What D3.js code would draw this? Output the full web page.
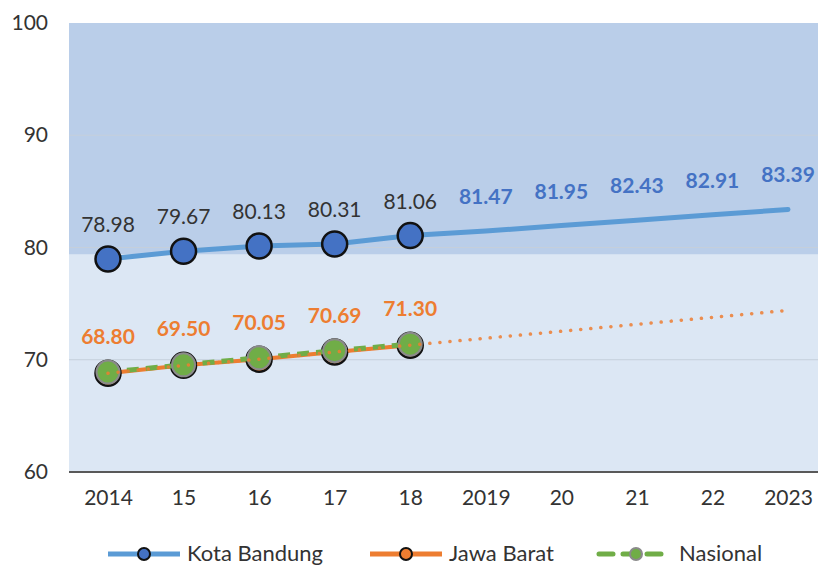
<!DOCTYPE html>
<meta charset="utf-8">
<style>
  body { margin: 0; background: #fff; }
  text { font-family: Lato, "Open Sans", sans-serif; }
</style>
<body>
<svg width="818" height="568"></svg>

<script src="https://cdn.jsdelivr.net/npm/d3@7/dist/d3.min.js"></script>
<script>

// data
var years = ["2014", "15", "16", "17", "18", "2019", "20", "21", "22", "2023"];
var kotaBandung = [78.98, 79.67, 80.13, 80.31, 81.06, 81.47, 81.95, 82.43, 82.91, 83.39];
var jawaBarat = [68.80, 69.50, 70.05, 70.69, 71.30, 71.92, 72.54, 73.16, 73.78, 74.40];
var nasional = [68.90, 69.55, 70.18, 70.81, 71.39];
var yTicks = [60, 70, 80, 90, 100];
var bandTop = 100, bandBottom = 79.4;
var lastActual = 4;   // index of 18, last year with real values

var svg = d3.select("svg");
var margin = {top: 23, left: 69, right: 0, bottom: 96};
var width = 818 - margin.left - margin.right;
var height = 568 - margin.top - margin.bottom;

var x = d3.scalePoint().domain(years).range([39, width - 30]);
var y = d3.scaleLinear().domain([60, 100]).range([height, 0]);

var g = svg.append("g")
    .attr("transform", "translate(" + margin.left + "," + margin.top + ")");

// background bands
g.append("rect")
    .attr("width", width).attr("height", height)
    .attr("fill", "#dce7f4");
g.append("rect")
    .attr("y", y(bandTop))
    .attr("width", width).attr("height", y(bandBottom) - y(bandTop))
    .attr("fill", "#bacee9");

// grid lines
g.selectAll(".grid").data(yTicks.filter(function(d) { return d > 60 && d < 100; }))
  .enter().append("line")
    .attr("x1", 0).attr("x2", width)
    .attr("y1", function(d) { return y(d); }).attr("y2", function(d) { return y(d); })
    .attr("stroke", "#c5cfdb").attr("stroke-width", 1);

// axes
var yAxis = g.append("g")
    .call(d3.axisLeft(y).tickValues(yTicks).tickSize(0).tickPadding(21));
yAxis.select(".domain").remove();
yAxis.selectAll("text").attr("font-size", 21).attr("fill", "#333");

var xAxis = g.append("g")
    .attr("transform", "translate(0," + height + ")")
    .call(d3.axisBottom(x).tickSize(0).tickPadding(18));
xAxis.select(".domain").remove();
xAxis.selectAll("text").attr("font-size", 21).attr("fill", "#333");
xAxis.append("line")
    .attr("x1", 0).attr("x2", width)
    .attr("stroke", "#595959").attr("stroke-width", 2);

var line = d3.line()
    .x(function(d, i) { return x(years[i]); })
    .y(function(d) { return y(d); });

// Kota Bandung
g.append("path")
    .datum(kotaBandung)
    .attr("d", line)
    .attr("fill", "none").attr("stroke", "#5b9bd5")
    .attr("stroke-width", 5).attr("stroke-linecap", "round");

g.selectAll(".kb").data(kotaBandung.slice(0, lastActual + 1))
  .enter().append("circle")
    .attr("cx", function(d, i) { return x(years[i]); })
    .attr("cy", function(d) { return y(d); })
    .attr("r", 12.5)
    .attr("fill", "#4472c4").attr("stroke", "#111").attr("stroke-width", 2.5);

// Jawa Barat solid part
var jbActual = jawaBarat.slice(0, lastActual + 1);
g.append("path")
    .datum(jbActual)
    .attr("d", line)
    .attr("fill", "none").attr("stroke", "#ed7d31").attr("stroke-width", 4);

g.selectAll(".jb").data(jbActual)
  .enter().append("circle")
    .attr("cx", function(d, i) { return x(years[i]); })
    .attr("cy", function(d) { return y(d); })
    .attr("r", 12.5)
    .attr("fill", "#ed7d31").attr("stroke", "#111").attr("stroke-width", 2.5);

// Nasional
g.append("path")
    .datum(nasional)
    .attr("d", line)
    .attr("fill", "none").attr("stroke", "#70ad47")
    .attr("stroke-width", 5).attr("stroke-dasharray", "12,7");

g.selectAll(".na").data(nasional)
  .enter().append("circle")
    .attr("cx", function(d, i) { return x(years[i]); })
    .attr("cy", function(d) { return y(d); })
    .attr("r", 11.5)
    .attr("fill", "#70ad47").attr("stroke", "#8a8a8a").attr("stroke-width", 2);

// Jawa Barat dotted trend
g.append("path")
    .datum(jawaBarat)
    .attr("d", line)
    .attr("fill", "none").attr("stroke", "#ed7d31")
    .attr("stroke-width", 3.5).attr("stroke-dasharray", "0.1,10")
    .attr("stroke-linecap", "round").attr("opacity", 0.85);

// labels
g.selectAll(".kbl").data(kotaBandung)
  .enter().append("text")
    .attr("x", function(d, i) { return x(years[i]); })
    .attr("y", function(d) { return y(d) - 27; })
    .attr("text-anchor", "middle")
    .attr("font-size", 21)
    .attr("font-weight", function(d, i) { return i > lastActual ? "bold" : "normal"; })
    .attr("fill", function(d, i) { return i > lastActual ? "#4472c4" : "#333"; })
    .text(function(d) { return d.toFixed(2); });

g.selectAll(".jbl").data(jbActual)
  .enter().append("text")
    .attr("x", function(d, i) { return x(years[i]); })
    .attr("y", function(d) { return y(d) - 29; })
    .attr("text-anchor", "middle")
    .attr("font-size", 21).attr("font-weight", "bold")
    .attr("fill", "#ed7d31")
    .text(function(d) { return d.toFixed(2); });

// legend
var legend = svg.append("g").attr("transform", "translate(0,554)");

var kbLeg = legend.append("g").attr("transform", "translate(108,0)");
kbLeg.append("line").attr("x1", 0).attr("x2", 72)
    .attr("stroke", "#5b9bd5").attr("stroke-width", 5);
kbLeg.append("circle").attr("cx", 36).attr("r", 6)
    .attr("fill", "#4472c4").attr("stroke", "#111").attr("stroke-width", 2);
kbLeg.append("text").attr("x", 79).attr("y", 7)
    .attr("font-size", 22).attr("fill", "#333").text("Kota Bandung");

var jbLeg = legend.append("g").attr("transform", "translate(370,0)");
jbLeg.append("line").attr("x1", 0).attr("x2", 72)
    .attr("stroke", "#ed7d31").attr("stroke-width", 5);
jbLeg.append("circle").attr("cx", 36).attr("r", 6)
    .attr("fill", "#ed7d31").attr("stroke", "#111").attr("stroke-width", 2);
jbLeg.append("text").attr("x", 79).attr("y", 7)
    .attr("font-size", 22).attr("fill", "#333").text("Jawa Barat");

var naLeg = legend.append("g").attr("transform", "translate(599,0)");
naLeg.append("line").attr("x1", 0).attr("x2", 72)
    .attr("stroke", "#70ad47").attr("stroke-width", 5)
    .attr("stroke-dasharray", "14,10").attr("stroke-linecap", "round");
naLeg.append("circle").attr("cx", 37).attr("r", 6)
    .attr("fill", "#70ad47").attr("stroke", "#8a8a8a").attr("stroke-width", 2);
naLeg.append("text").attr("x", 80).attr("y", 7)
    .attr("font-size", 22).attr("fill", "#333").text("Nasional");

</script>
</body>
